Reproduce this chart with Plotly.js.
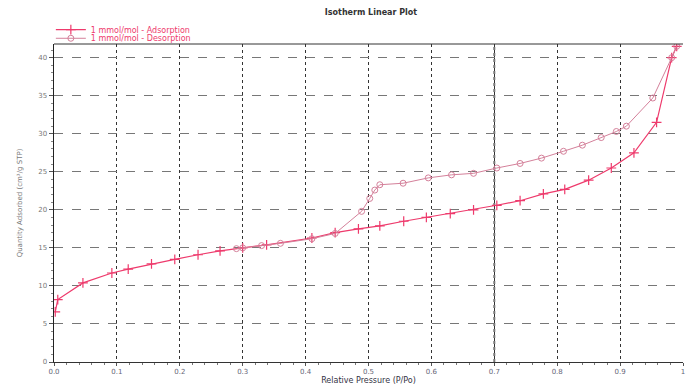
<!DOCTYPE html>
<html><head><meta charset="utf-8">
<script src="https://cdn.plot.ly/plotly-3.0.1.min.js"></script>
<style>html,body{margin:0;padding:0;background:#fff}#c{width:687px;height:385px}</style>
</head><body><div id="c"></div>
<script>
const adsName = "1 mmol/mol - Adsorption";
const desName = "1 mmol/mol - Desorption";
const adsX = [0.002, 0.006, 0.046, 0.092, 0.118, 0.155, 0.192, 0.229, 0.264, 0.300, 0.338, 0.410, 0.447, 0.484, 0.518, 0.556, 0.592, 0.630, 0.667, 0.704, 0.741, 0.778, 0.812, 0.850, 0.886, 0.922, 0.958, 0.982, 0.990];
const adsY = [6.6, 8.2, 10.4, 11.7, 12.2, 12.9, 13.5, 14.1, 14.6, 15.0, 15.4, 16.3, 17.0, 17.5, 17.9, 18.5, 19.0, 19.5, 20.0, 20.6, 21.2, 22.1, 22.7, 23.9, 25.5, 27.5, 31.5, 40.0, 41.5];
const desX = [0.990, 0.982, 0.952, 0.910, 0.894, 0.870, 0.840, 0.810, 0.775, 0.741, 0.704, 0.667, 0.632, 0.595, 0.555, 0.518, 0.510, 0.502, 0.489, 0.447, 0.410, 0.360, 0.330, 0.300, 0.290];
const desY = [41.5, 40.0, 34.7, 31.0, 30.3, 29.5, 28.5, 27.7, 26.8, 26.1, 25.5, 24.8, 24.6, 24.2, 23.5, 23.3, 22.6, 21.5, 19.8, 16.9, 16.2, 15.6, 15.3, 15.0, 14.9];
const xTickVals = [0, 0.1, 0.2, 0.3, 0.4, 0.5, 0.6, 0.7, 0.8, 0.9, 1];
const xTickText = ["0.0", "0.1", "0.2", "0.3", "0.4", "0.5", "0.6", "0.7", "0.8", "0.9", "1"];
const yTickVals = [0, 5, 10, 15, 20, 25, 30, 35, 40];

const adsColor = '#ee3a6c';
const desColor = '#d4809a';
const traces = [
  {x: adsX, y: adsY, name: adsName, mode: 'lines+markers', type: 'scatter', legend: 'legend',
   line: {color: adsColor, width: 1.2},
   marker: {symbol: 'cross-thin', size: 7, color: adsColor, line: {color: adsColor, width: 1.2}}},
  {x: desX, y: desY, name: desName, mode: 'lines+markers', type: 'scatter', legend: 'legend2',
   line: {color: desColor, width: 1},
   marker: {symbol: 'circle-open', size: 6, color: desColor, line: {color: '#c47890', width: 1}}}
];
const legendFont = {family: 'DejaVu Sans, sans-serif', size: 8, color: adsColor};
const layout = {
  width: 687, height: 385,
  margin: {l: 54, r: 4, t: 44, b: 23},
  paper_bgcolor: '#fff', plot_bgcolor: '#fff',
  font: {family: 'DejaVu Sans, sans-serif', size: 8, color: '#666'},
  title: {text: '<b>Isotherm Linear Plot</b>', x: 0.54, xanchor: 'center', y: 0.968, yanchor: 'middle',
          font: {size: 8, color: '#333'}},
  showlegend: true,
  legend: {x: -0.005, xanchor: 'left', y: 1.045, yanchor: 'middle', bgcolor: 'rgba(0,0,0,0)',
           font: legendFont, itemwidth: 30},
  legend2: {x: -0.005, xanchor: 'left', y: 1.018, yanchor: 'middle', bgcolor: 'rgba(0,0,0,0)',
           font: legendFont, itemwidth: 30},
  xaxis: {range: [0, 1.0], tickvals: xTickVals, ticktext: xTickText, showline: true, linecolor: '#333', linewidth: 1,
          mirror: false, ticks: 'outside', ticklen: 3, tickcolor: '#555',
          minor: {dtick: 0.02, ticks: 'outside', ticklen: 2, tickcolor: '#777', showgrid: false},
          showgrid: true, gridcolor: '#333', griddash: 'dot', gridwidth: 1, zeroline: false,
          tickfont: {size: 7, color: '#667'},
          title: {text: 'Relative Pressure (P/Po)', standoff: 0, font: {size: 8, color: '#334'}}},
  yaxis: {range: [0, 41.8], tickvals: yTickVals, showline: true, linecolor: '#222', linewidth: 1.5,
          ticks: 'outside', ticklen: 4, tickcolor: '#555',
          minor: {dtick: 1, ticks: 'outside', ticklen: 2, tickcolor: '#888', showgrid: false},
          showgrid: true, gridcolor: '#777', griddash: 'dash', gridwidth: 1, zeroline: false,
          tickfont: {size: 7, color: '#777'},
          title: {text: 'Quantity Adsorbed (cm³/g STP)', standoff: 14, font: {size: 7, color: '#777'}}},
  shapes: [
    {type: 'line', xref: 'paper', yref: 'paper', x0: 0, x1: 1, y0: 1, y1: 1, line: {color: '#333', width: 1}},
    {type: 'line', xref: 'x', yref: 'paper', x0: 0.7, x1: 0.7, y0: 0, y1: 1, line: {color: '#777', width: 2, dash: 'dot'}, layer: 'below'}
  ]
};
Plotly.newPlot('c', traces, layout, {displayModeBar: false, staticPlot: true});
</script></body></html>
